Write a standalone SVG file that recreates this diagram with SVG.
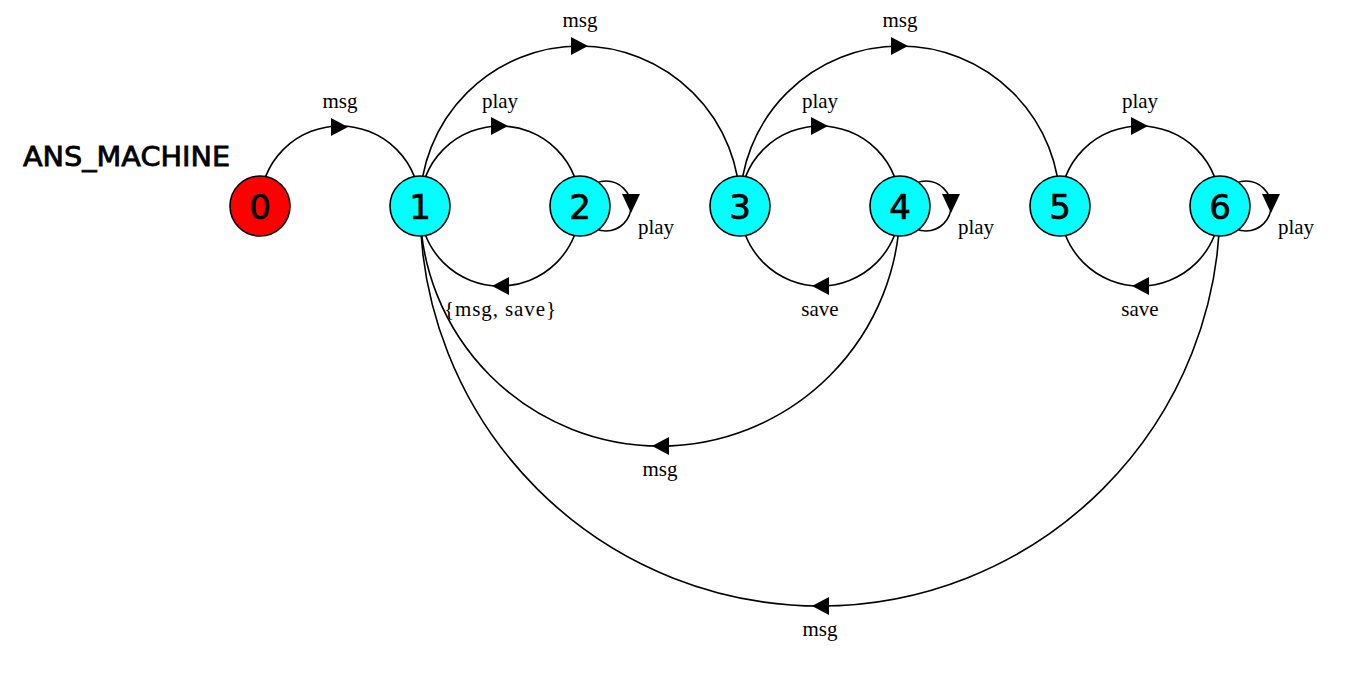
<svg xmlns="http://www.w3.org/2000/svg" width="1350" height="692" viewBox="0 0 1350 692">
<style>
.e{fill:none;stroke:#000;stroke-width:1.6}
.ah{fill:#000;stroke:none}
.lbl{font-family:"Liberation Serif","Times New Roman",serif;font-size:21px;fill:#000;text-anchor:middle}
.nd{stroke:#000;stroke-width:1.6}
.nt{font-family:"DejaVu Sans",sans-serif;font-size:34px;fill:#000;stroke:#000;stroke-width:0.7;text-anchor:middle}
.title{font-family:"DejaVu Sans",sans-serif;font-size:27px;fill:#000;stroke:#000;stroke-width:0.8}
</style>
<rect width="1350" height="692" fill="#fff"/>
<text class="title" x="23" y="166" textLength="207" lengthAdjust="spacingAndGlyphs">ANS_MACHINE</text>
<g id="connectors">
  <path class="e" d="M260,206 A80,80 0 0 1 420,206"/>
  <polygon class="ah" points="348,127 331,118 331,136"/>
  <text class="lbl" x="340" y="108">msg</text>

  <path class="e" d="M420,206 A160,160 0 0 1 740,206"/>
  <polygon class="ah" points="588,46 571,37 571,55"/>
  <text class="lbl" x="580" y="27">msg</text>

  <path class="e" d="M420,206 A80,80 0 0 1 580,206"/>
  <polygon class="ah" points="508,126 491,117 491,135"/>
  <text class="lbl" x="500" y="108">play</text>

  <path class="e" d="M580,206 A80,80 0 0 1 420,206"/>
  <polygon class="ah" points="492,286 509,277 509,295"/>
  <text class="lbl" x="500" y="316" textLength="112" lengthAdjust="spacing">{msg, save}</text>

  <circle class="e" cx="606" cy="206" r="25"/>
  <polygon class="ah" points="631,213 622,194 640,194"/>
  <text class="lbl" x="656" y="234">play</text>

  <path class="e" d="M740,206 A160,160 0 0 1 1060,206"/>
  <polygon class="ah" points="908,46 891,37 891,55"/>
  <text class="lbl" x="900" y="27">msg</text>

  <path class="e" d="M740,206 A80,80 0 0 1 900,206"/>
  <polygon class="ah" points="828,126 811,117 811,135"/>
  <text class="lbl" x="820" y="108">play</text>

  <path class="e" d="M900,206 A80,80 0 0 1 740,206"/>
  <polygon class="ah" points="812,286 829,277 829,295"/>
  <text class="lbl" x="820" y="316">save</text>

  <circle class="e" cx="926" cy="206" r="25"/>
  <polygon class="ah" points="951,213 942,194 960,194"/>
  <text class="lbl" x="976" y="234">play</text>

  <path class="e" d="M900,206 A240,240 0 0 1 420,206"/>
  <polygon class="ah" points="652,446 669,437 669,455"/>
  <text class="lbl" x="660" y="476">msg</text>

  <path class="e" d="M1060,206 A80,80 0 0 1 1220,206"/>
  <polygon class="ah" points="1148,126 1131,117 1131,135"/>
  <text class="lbl" x="1140" y="108">play</text>

  <path class="e" d="M1220,206 A80,80 0 0 1 1060,206"/>
  <polygon class="ah" points="1132,286 1149,277 1149,295"/>
  <text class="lbl" x="1140" y="316">save</text>

  <circle class="e" cx="1246" cy="206" r="25"/>
  <polygon class="ah" points="1271,213 1262,194 1280,194"/>
  <text class="lbl" x="1296" y="234">play</text>

  <path class="e" d="M1220,206 A400,400 0 0 1 420,206"/>
  <polygon class="ah" points="812,606 829,597 829,615"/>
  <text class="lbl" x="820" y="636">msg</text>
</g>
<g id="node0"><circle class="nd" cx="260" cy="206" r="30" fill="#ff0000"/><text class="nt" x="260" y="219">0</text></g>
<g id="node1"><circle class="nd" cx="420" cy="206" r="30" fill="#00ffff"/><text class="nt" x="420" y="219">1</text></g>
<g id="node2"><circle class="nd" cx="580" cy="206" r="30" fill="#00ffff"/><text class="nt" x="580" y="219">2</text></g>
<g id="node3"><circle class="nd" cx="740" cy="206" r="30" fill="#00ffff"/><text class="nt" x="740" y="219">3</text></g>
<g id="node4"><circle class="nd" cx="900" cy="206" r="30" fill="#00ffff"/><text class="nt" x="900" y="219">4</text></g>
<g id="node5"><circle class="nd" cx="1060" cy="206" r="30" fill="#00ffff"/><text class="nt" x="1060" y="219">5</text></g>
<g id="node6"><circle class="nd" cx="1220" cy="206" r="30" fill="#00ffff"/><text class="nt" x="1220" y="219">6</text></g>
</svg>
